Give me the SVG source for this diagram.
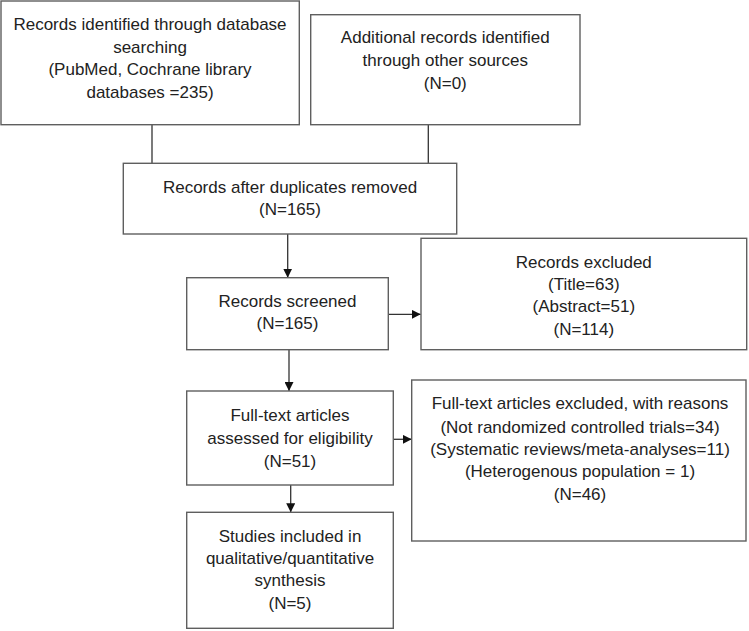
<svg xmlns="http://www.w3.org/2000/svg" width="749" height="631" viewBox="0 0 749 631">
<style>
.box{fill:#fff;stroke:#5f5f5f;stroke-width:1.4}
.t{font-family:"Liberation Sans",Arial,sans-serif;font-size:17px;fill:#222;text-anchor:middle}
.c{stroke:#333;stroke-width:1.3;fill:none}
</style>
<defs>
<marker id="ah" viewBox="0 0 10 10" refX="10" refY="5" markerWidth="9" markerHeight="9" markerUnits="userSpaceOnUse" orient="auto">
<path d="M0,0 L10,5 L0,10 Z" fill="#111"/>
</marker>
</defs>
<rect width="749" height="631" fill="#fff"/>
<g id="connectors">
<line class="c" x1="152" y1="124.7" x2="152" y2="163.3"/>
<line class="c" x1="428.3" y1="124.7" x2="428.3" y2="163.3"/>
<line class="c" x1="287.7" y1="234" x2="287.7" y2="277.7" marker-end="url(#ah)"/>
<line class="c" x1="388.3" y1="314.3" x2="420.7" y2="314.3" marker-end="url(#ah)"/>
<line class="c" x1="289" y1="349.7" x2="289" y2="391" marker-end="url(#ah)"/>
<line class="c" x1="393.3" y1="439.3" x2="411.7" y2="439.3" marker-end="url(#ah)"/>
<line class="c" x1="290.7" y1="485" x2="290.7" y2="512.3" marker-end="url(#ah)"/>
</g>
<g id="n1">
<rect class="box" x="1" y="1" width="298.3" height="123.7"/>
<text class="t" x="150" y="30">Records identified through database</text>
<text class="t" x="150" y="52.7">searching</text>
<text class="t" x="150" y="75.3">(PubMed, Cochrane library</text>
<text class="t" x="150" y="98">databases =235)</text>
</g>
<g id="n2">
<rect class="box" x="310.7" y="14.7" width="269.3" height="110"/>
<text class="t" x="445.3" y="43.3">Additional records identified</text>
<text class="t" x="445.3" y="66">through other sources</text>
<text class="t" x="445.3" y="89">(N=0)</text>
</g>
<g id="n3">
<rect class="box" x="123.3" y="163.3" width="333.4" height="70.7"/>
<text class="t" x="290" y="193">Records after duplicates removed</text>
<text class="t" x="290" y="215.3">(N=165)</text>
</g>
<g id="n4">
<rect class="box" x="186.7" y="277.7" width="201.6" height="72"/>
<text class="t" x="287.5" y="307.3">Records screened</text>
<text class="t" x="287.5" y="329.3">(N=165)</text>
</g>
<g id="n5">
<rect class="box" x="421" y="238.3" width="325.7" height="111.4"/>
<text class="t" x="583.8" y="267.7">Records excluded</text>
<text class="t" x="583.8" y="290">(Title=63)</text>
<text class="t" x="583.8" y="312.4">(Abstract=51)</text>
<text class="t" x="583.8" y="334.8">(N=114)</text>
</g>
<g id="n6">
<rect class="box" x="186.7" y="391" width="206.6" height="94"/>
<text class="t" x="290" y="421">Full-text articles</text>
<text class="t" x="290" y="444">assessed for eligibility</text>
<text class="t" x="290" y="466.7">(N=51)</text>
</g>
<g id="n7">
<rect class="box" x="411.7" y="380" width="334.3" height="161"/>
<text class="t" x="580" y="409.3">Full-text articles excluded, with reasons</text>
<text class="t" x="580" y="432.5">(Not randomized controlled trials=34)</text>
<text class="t" x="580" y="455">(Systematic reviews/meta-analyses=11)</text>
<text class="t" x="580" y="477.3">(Heterogenous population = 1)</text>
<text class="t" x="580" y="499.5">(N=46)</text>
</g>
<g id="n8">
<rect class="box" x="186.7" y="512.3" width="206.6" height="116"/>
<text class="t" x="290" y="541.7">Studies included in</text>
<text class="t" x="290" y="564.3">qualitative/quantitative</text>
<text class="t" x="290" y="586.3">synthesis</text>
<text class="t" x="290" y="608.5">(N=5)</text>
</g>
</svg>
